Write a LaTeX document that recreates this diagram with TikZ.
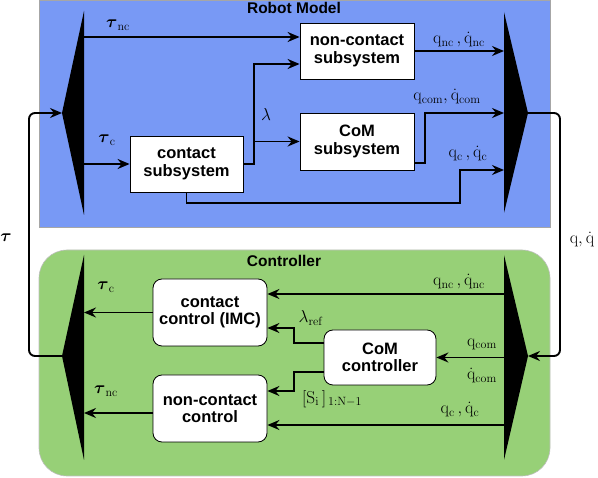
\documentclass[tikz,border=0pt]{standalone}
\usepackage{amsmath}
\usepackage[no-math]{fontspec}
\setmainfont{Liberation Sans}
\usetikzlibrary{arrows.meta}
\definecolor{robotblue}{RGB}{120,153,245}
\definecolor{ctrlgreen}{RGB}{151,208,119}
\begin{document}
\begin{tikzpicture}[x=1pt,y=-1pt,
 box/.style={draw=black, line width=0.8pt, fill=white, align=center, inner sep=0pt,
   font=\bfseries\fontsize{16.5}{17.5}\selectfont},
 rbox/.style={box, rounded corners=9pt},
 conn/.style={line width=1.9pt, -{Stealth[length=12pt,width=10pt,inset=4pt]}},
 lab/.style={font=\fontsize{18}{20}\selectfont, inner sep=0pt},
 ttl/.style={font=\bfseries\fontsize{15.5}{17}\selectfont, inner sep=0pt},
 tri/.style={fill=black}]
\useasboundingbox (0,0) rectangle (598,478);
% regions
\draw[fill=robotblue, draw=gray!70, line width=0.6pt] (39,0.5) rectangle (550,227);
\draw[fill=ctrlgreen, draw=gray!50, line width=0.6pt, rounded corners=28pt] (39,250) rectangle (550,476);
\node[ttl] (ttlR) at (294,8) {Robot Model};
\node[ttl] (ttlC) at (284,261) {Controller};
% mux / demux
\fill[tri] (84,11) -- (62,113) -- (84,215) -- cycle;
\fill[tri] (504,12) -- (528,113) -- (504,213) -- cycle;
\fill[tri] (84,255) -- (62,356) -- (84,460) -- cycle;
\fill[tri] (504,255) -- (528,356) -- (504,460) -- cycle;
\coordinate (dmTtip) at (62,113);
\coordinate (dmTedge) at (84,113);
\coordinate (mxTtip) at (528,113);
\coordinate (mxTedge) at (504,113);
\coordinate (dmCtip) at (62,356);
\coordinate (dmCedge) at (84,356);
\coordinate (mxCtip) at (528,356);
\coordinate (mxCedge) at (504,356);
% boxes
\node[box, minimum width=113pt, minimum height=56pt] (cs) at (186.5,164) {contact\\subsystem};
\node[box, minimum width=114pt, minimum height=56pt] (ncs) at (357,51) {non-contact\\subsystem};
\node[box, minimum width=114pt, minimum height=57pt] (coms) at (357,141.5) {CoM\\subsystem};
\node[rbox, minimum width=114pt, minimum height=67pt] (cc) at (210,312.5) {contact\\control (IMC)};
\node[rbox, minimum width=114pt, minimum height=67pt] (ncc) at (210,408.5) {non-contact\\control};
\node[rbox, minimum width=112pt, minimum height=55pt] (comc) at (380,357.5) {CoM\\controller};
% top connectors
\coordinate (ncsin1) at ([yshift=14pt]ncs.west);
\coordinate (ncsin2) at ([yshift=-13pt]ncs.west);
\draw[conn] (dmTedge |- ncsin1) -- (ncsin1);
\draw[conn] (dmTedge |- cs.west) -- (cs.west);
\draw[conn] (cs.east) -- (254,164) |- (ncsin2);
\draw[conn] (254,141.5) -- (coms.west);
\draw[conn] (ncs.east) -- (mxTedge |- ncs.east);
\draw[conn] ([yshift=-21.5pt]coms.east) -- ++(11,0) |- (mxTedge);
\draw[conn] (cs.south) |- (460,203) |- (mxTedge |- 0,170);
% feedback
\draw[conn, rounded corners=6pt] (mxTtip) -- (560,113) -- (560,356) -- (mxCtip);
\draw[conn, rounded corners=6pt] (dmCtip) -- (29,356) -- (29,113) -- (dmTtip);
% controller connectors
\draw[conn] (cc.west) -- (dmCedge |- cc.west);
\draw[conn] ([yshift=-4.5pt]ncc.west) -- (dmCedge |- 0,413);
\draw[conn] (mxCedge |- 0,294) -- (cc.east |- 0,294);
\draw[conn] ([yshift=14.5pt]comc.west) -- (294,343) |- ([yshift=-15.5pt]cc.east);
\draw[conn] ([yshift=-14.5pt]comc.west) -- (294,372) |- ([yshift=17.5pt]ncc.east);
\draw[conn] (mxCedge |- comc.east) -- (comc.east);
\draw[conn] (mxCedge |- 0,425) -- (ncc.east |- 0,425);
% labels
\node[lab] (l1) at (118,25) {$\boldsymbol{\tau}_{\mathrm{nc}}$};
\node[lab] (l2) at (107,140) {$\boldsymbol{\tau}_{\mathrm{c}}$};
\node[lab] (l3) at (266,115) {$\lambda$};
\node[lab] (l4) at (459,40) {$\mathrm{q}_{\mathrm{nc}}\,,\dot{\mathrm{q}}_{\mathrm{nc}}$};
\node[lab] (l5) at (447,97) {$\mathrm{q}_{\mathrm{com}},\dot{\mathrm{q}}_{\mathrm{com}}$};
\node[lab] (l6) at (468,154) {$\mathrm{q}_{\mathrm{c}}\,,\dot{\mathrm{q}}_{\mathrm{c}}$};
\node[lab] (l7) at (582,240) {$\mathrm{q},\dot{\mathrm{q}}$};
\node[lab] (l8) at (6,238) {$\boldsymbol{\tau}$};
\node[lab] (l9) at (106,287) {$\boldsymbol{\tau}_{\mathrm{c}}$};
\node[lab] (l10) at (106,391) {$\boldsymbol{\tau}_{\mathrm{nc}}$};
\node[lab] (l11) at (459,282) {$\mathrm{q}_{\mathrm{nc}}\,,\dot{\mathrm{q}}_{\mathrm{nc}}$};
\node[lab] (l12) at (311,318) {$\lambda_{\mathrm{ref}}$};
\node[lab] (l13) at (332,399) {$[\mathrm{S}_{\mathrm{i}}\,]_{\,\mathrm{1:N-1}}$};
\node[lab] (l14) at (482,344) {$\mathrm{q}_{\mathrm{com}}$};
\node[lab] (l15) at (482,376) {$\dot{\mathrm{q}}_{\mathrm{com}}$};
\node[lab] (l16) at (460,410) {$\mathrm{q}_{\mathrm{c}}\,,\dot{\mathrm{q}}_{\mathrm{c}}$};
\end{tikzpicture}
\end{document}
